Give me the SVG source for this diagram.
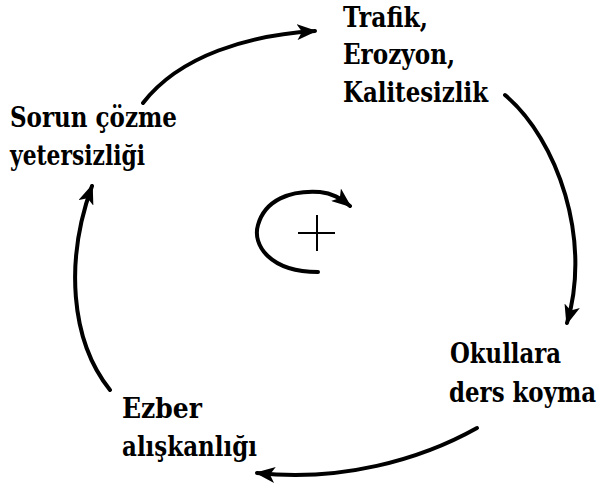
<svg xmlns="http://www.w3.org/2000/svg" width="601" height="488" viewBox="0 0 601 488">
<style>
  .lbl { font-family: 'DejaVu Serif', 'Liberation Serif', 'Times New Roman', serif; font-weight: bold; font-size: 27px; fill: #000; }
  .conn { fill: none; stroke: #000; stroke-width: 4; stroke-linecap: round; marker-end: url(#ah); }
  .plus { stroke: #000; stroke-width: 2; }
</style>
<defs>
  <marker id="ah" viewBox="0 0 20 16" markerWidth="20" markerHeight="16" refX="18" refY="8" orient="auto" markerUnits="userSpaceOnUse">
    <path d="M0,0 L20,8 L0,16 L5,8 z" fill="#000"/>
  </marker>
</defs>
<rect width="601" height="488" fill="#fff"/>
<g id="connectors">
  <path class="conn" d="M143,103 C180,55 250,35 315,31"/>
  <path class="conn" d="M505,95 C558,140 592,240 567,323"/>
  <path class="conn" d="M477,428 C420,460 340,482 257,473"/>
  <path class="conn" d="M110,390 C70,340 65,260 92,186"/>
</g>
<g id="loop">
  <path class="conn" d="M318,272 C270,272 252,245 258,225 C265,200 290,190 320,192 C332,193 340,198 350,206"/>
  <line class="plus" x1="298" y1="233" x2="335" y2="233"/>
  <line class="plus" x1="317" y1="215" x2="317" y2="251"/>
</g>
<g id="node-trafik" class="lbl">
  <text x="343" y="27" textLength="85" lengthAdjust="spacingAndGlyphs">Trafik,</text>
  <text x="343" y="64" textLength="112" lengthAdjust="spacingAndGlyphs">Erozyon,</text>
  <text x="343" y="102" textLength="145" lengthAdjust="spacingAndGlyphs">Kalitesizlik</text>
</g>
<g id="node-sorun" class="lbl">
  <text x="10" y="127" textLength="167" lengthAdjust="spacingAndGlyphs">Sorun çözme</text>
  <text x="10" y="165" textLength="135" lengthAdjust="spacingAndGlyphs">yetersizliği</text>
</g>
<g id="node-okullara" class="lbl">
  <text x="450" y="363" textLength="111" lengthAdjust="spacingAndGlyphs">Okullara</text>
  <text transform="translate(449,402) scale(0.845,1)" x="0" y="0" textLength="174" lengthAdjust="spacingAndGlyphs">ders koyma</text>
</g>
<g id="node-ezber" class="lbl">
  <text x="122" y="418" textLength="80" lengthAdjust="spacingAndGlyphs">Ezber</text>
  <text x="122" y="456" textLength="135" lengthAdjust="spacingAndGlyphs">alışkanlığı</text>
</g>
</svg>
